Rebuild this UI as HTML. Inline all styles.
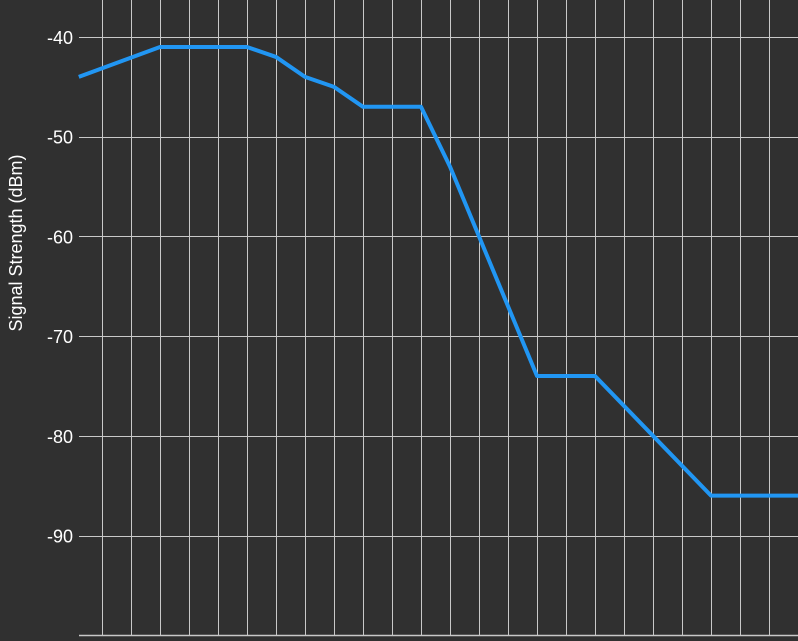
<!DOCTYPE html>
<html><head><meta charset="utf-8"><style>
html,body{margin:0;padding:0;background:#303030;}
svg{display:block;font-family:"Liberation Sans",sans-serif;}
</style></head><body>
<svg id="chart" width="798" height="641">
<rect width="798" height="641" fill="#303030"/>
<g id="grid"></g><g id="yticks"></g>
<text x="22" y="243" fill="#ffffff" font-size="18" text-anchor="middle" transform="rotate(-90 22 243)">Signal Strength (dBm)</text>
<path id="line" fill="none" stroke="#2196f3" stroke-width="4" stroke-linejoin="round"/>
</svg>
<script>
const xValues=[-0.8,2,5,6,7,8,9,11,12,13,15,17,19,21,24];
const yValues=[-44,-41,-41,-42,-44,-45,-47,-47,-53,-60,-74,-74,-80,-86,-86];
const yTicks=[-40,-50,-60,-70,-80,-90];
const gridCount=24;
const NS="http://www.w3.org/2000/svg";
function xs(v){return 102+v*29;}
function ys(v){return 37+(-40-v)*9.97;}
const grid=document.getElementById('grid');
for(let i=0;i<gridCount;i++){
  const l=document.createElementNS(NS,'line');
  l.setAttribute('x1',xs(i)+0.5);l.setAttribute('x2',xs(i)+0.5);
  l.setAttribute('y1',0);l.setAttribute('y2',ys(-100));
  l.setAttribute('stroke','#c8c8c8');l.setAttribute('stroke-width','1');
  
  
  grid.appendChild(l);
}
const yt=document.getElementById('yticks');
yTicks.concat([-100]).forEach(v=>{
  const l=document.createElementNS(NS,'line');
  l.setAttribute('x1',79);l.setAttribute('x2',798);
  l.setAttribute('y1',Math.round(ys(v))+0.5);l.setAttribute('y2',Math.round(ys(v))+0.5);
  l.setAttribute('stroke','#c8c8c8');l.setAttribute('stroke-width',v===-100?'1.5':'1');
  
  
  grid.appendChild(l);
});
yTicks.forEach(v=>{
  const t=document.createElementNS(NS,'text');
  t.setAttribute('x',73);t.setAttribute('y',ys(v)+7);
  t.setAttribute('fill','#ffffff');t.setAttribute('font-size','18');
  t.setAttribute('text-anchor','end');
  t.textContent=v;
  
  
  yt.appendChild(t);
});
document.getElementById('line').setAttribute('d',xValues.map((x,i)=>(i?'L':'M')+xs(x)+','+ys(yValues[i])).join(' '));
</script>
</body></html>
